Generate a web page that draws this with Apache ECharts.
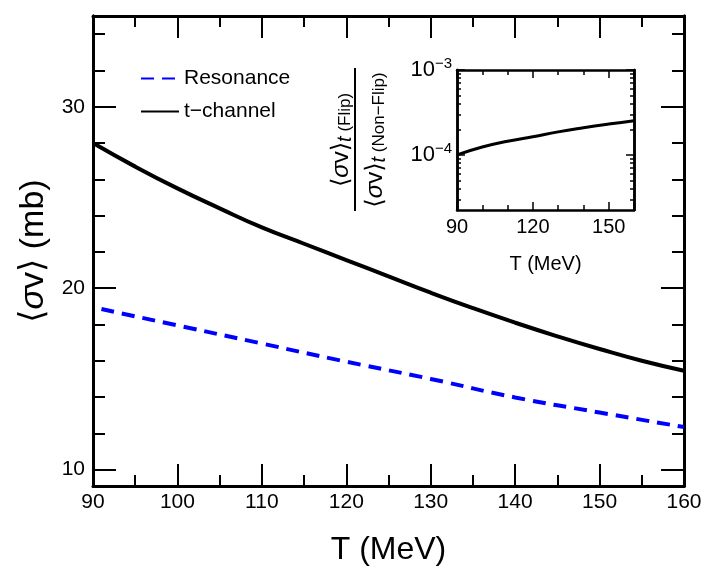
<!DOCTYPE html>
<html>
<head>
<meta charset="utf-8">
<script src="https://cdn.jsdelivr.net/npm/echarts@6/dist/echarts.min.js"></script>
<style>
  html, body { margin: 0; padding: 0; background: #fff; }
  #chart { width: 709px; height: 571px; }
</style>
</head>
<body>
<div id="chart"></div>
<script>
// main panel: <sigma v> vs T
var tGrid = [90, 95, 100, 105, 110, 115, 120, 125, 130, 135, 140, 145, 150, 155, 160]
var tChannel = [28.0, 26.7, 25.5, 24.4, 23.35, 22.45, 21.55, 20.65, 19.75, 18.9, 18.1, 17.35, 16.65, 16.0, 15.45]
var resT = [91, 100, 110, 120, 130, 140, 150, 160]
var resonance = [18.85, 17.95, 16.95, 15.95, 15.0, 13.98, 13.15, 12.35]

// inset: flip / non-flip ratio
var insetT = [90, 100, 110, 120, 130, 140, 150, 160]
var insetRatio = [1.0e-4, 1.24e-4, 1.45e-4, 1.64e-4, 1.87e-4, 2.09e-4, 2.31e-4, 2.53e-4]

var yMajor = [10, 20, 30]
var yMinor = [12, 14, 16, 18, 22, 24, 26, 28, 32, 34]
var logMajor = [1e-4, 1e-3]
var logMinor = [3e-5, 4e-5, 5e-5, 6e-5, 7e-5, 8e-5, 9e-5, 2e-4, 3e-4, 4e-4, 5e-4, 6e-4, 7e-4, 8e-4, 9e-4]

var FONT = 'Liberation Sans, Arial, DejaVu Sans, sans-serif'
var YMIN = 9.1, YMAX = 35
var LMIN = 2.25e-5, LMAX = 1e-3

function pairs (xs, ys) {
  return xs.map(function (x, i) { return [x, ys[i]] })
}

var frame = { show: true, lineStyle: { color: '#000', width: 3 } }
var frameThin = { show: true, lineStyle: { color: '#000', width: 2.5 } }

function mainX (pos, labels) {
  return {
    type: 'value', gridIndex: 0, position: pos, min: 90, max: 160, interval: 10,
    axisLine: frame,
    axisTick: { show: true, inside: true, length: 22, lineStyle: { color: '#000', width: 2 } },
    minorTick: { show: true, splitNumber: 2, length: 11, lineStyle: { color: '#000', width: 2 } },
    axisLabel: { show: labels, color: '#000', fontSize: 21, fontFamily: FONT, margin: 6 },
    splitLine: { show: false },
    name: labels ? 'T (MeV)' : '',
    nameLocation: 'middle', nameGap: 48,
    nameTextStyle: { color: '#000', fontSize: 32, fontFamily: FONT }
  }
}

function mainY (pos, major, labels) {
  var vals = major ? yMajor : yMinor
  return {
    type: 'value', gridIndex: 0, position: pos, min: YMIN, max: YMAX,
    axisLine: frame,
    axisTick: { show: true, inside: true, length: major ? 23 : 12, customValues: vals, lineStyle: { color: '#000', width: 2 } },
    axisLabel: { show: labels, customValues: yMajor, color: '#000', fontSize: 21, fontFamily: FONT, margin: 8 },
    splitLine: { show: false },
    name: labels ? '⟨{i|σ}v⟩ (mb)' : '',
    nameLocation: 'middle', nameGap: 40,
    nameTextStyle: { color: '#000', fontSize: 34, fontFamily: FONT, rich: { i: { fontSize: 34, fontStyle: 'italic', fontFamily: FONT } } }
  }
}

function insetX (pos, labels) {
  return {
    type: 'value', gridIndex: 1, position: pos, min: 90, max: 160, interval: 30,
    axisLine: frameThin,
    axisTick: { show: true, inside: true, length: 8, lineStyle: { color: '#000', width: 1.5 } },
    minorTick: { show: true, splitNumber: 3, length: 5, lineStyle: { color: '#000', width: 1.5 } },
    axisLabel: { show: labels, color: '#000', fontSize: 20, fontFamily: FONT, margin: 7 },
    splitLine: { show: false },
    name: labels ? 'T (MeV)' : '',
    nameLocation: 'middle', nameGap: 44,
    nameTextStyle: { color: '#000', fontSize: 20, fontFamily: FONT }
  }
}

function insetY (pos, major, labels) {
  return {
    type: 'log', gridIndex: 1, position: pos, min: LMIN, max: LMAX, logBase: 10,
    axisLine: frameThin,
    axisTick: { show: true, inside: true, length: major ? 8 : 4, customValues: major ? logMajor : logMinor, lineStyle: { color: '#000', width: 1.5 } },
    axisLabel: {
      show: labels, customValues: logMajor, color: '#000', fontSize: 22, fontFamily: FONT, margin: 5,
      formatter: function (v) { return '10{s|−' + Math.round(-Math.log10(v)) + '}' },
      rich: { s: { fontSize: 15, fontFamily: FONT, color: '#000', verticalAlign: 'top', padding: [0, 0, 13, 0] } }
    },
    splitLine: { show: false }
  }
}

var fracRich = {
  i: { fontSize: 24, fontStyle: 'italic', fontFamily: FONT },
  t: { fontSize: 20, fontStyle: 'italic', fontFamily: FONT, padding: [9, 0, 0, 0] },
  s: { fontSize: 17, fontFamily: FONT, padding: [9, 0, 0, 0] }
}

var chart = echarts.init(document.getElementById('chart'))
var option = {
  backgroundColor: '#fff',
  animation: false,
  grid: [
    { left: 93, top: 16, right: 25, bottom: 85 },
    { left: 457, top: 70, width: 177, height: 140 }
  ],
  legend: {
    orient: 'vertical', left: 135, top: 63, itemWidth: 38, itemHeight: 16, itemGap: 12,
    itemStyle: { opacity: 0 },
    textStyle: { color: '#000', fontSize: 21, fontFamily: FONT },
    data: ['Resonance', 't−channel']
  },
  xAxis: [mainX('bottom', true), mainX('top', false), insetX('bottom', true), insetX('top', false)],
  yAxis: [
    mainY('left', true, true), mainY('left', false, false),
    mainY('right', true, false), mainY('right', false, false),
    insetY('left', true, true), insetY('left', false, false),
    insetY('right', true, false), insetY('right', false, false)
  ],
  graphic: [
    {
      type: 'text', x: 341, y: 140, rotation: Math.PI / 2,
      style: {
        text: '⟨{i|σ}v⟩{t|t}{s| (Flip)}', align: 'center', verticalAlign: 'middle',
        fill: '#000', font: '24px ' + FONT, rich: fracRich
      }
    },
    {
      type: 'line', shape: { x1: 355, y1: 68, x2: 355, y2: 211 },
      style: { stroke: '#000', lineWidth: 2 }
    },
    {
      type: 'text', x: 375, y: 140, rotation: Math.PI / 2,
      style: {
        text: '⟨{i|σ}v⟩{t|t}{s| (Non−Flip)}', align: 'center', verticalAlign: 'middle',
        fill: '#000', font: '24px ' + FONT, rich: fracRich
      }
    }
  ],
  series: [
    {
      name: 'Resonance', type: 'line', xAxisIndex: 0, yAxisIndex: 0, smooth: true,
      symbol: 'none', data: pairs(resT, resonance),
      lineStyle: { color: '#0000ff', width: 4, type: [13, 8] },
      itemStyle: { color: '#0000ff' }
    },
    {
      name: 't−channel', type: 'line', xAxisIndex: 0, yAxisIndex: 0, smooth: true,
      symbol: 'none', data: pairs(tGrid, tChannel),
      lineStyle: { color: '#000', width: 4 },
      itemStyle: { color: '#000' }
    },
    {
      name: 'ratio', type: 'line', xAxisIndex: 2, yAxisIndex: 4, smooth: true,
      symbol: 'none', data: pairs(insetT, insetRatio),
      lineStyle: { color: '#000', width: 3 },
      itemStyle: { color: '#000' }
    }
  ]
}
chart.setOption(option)
</script>
</body>
</html>
